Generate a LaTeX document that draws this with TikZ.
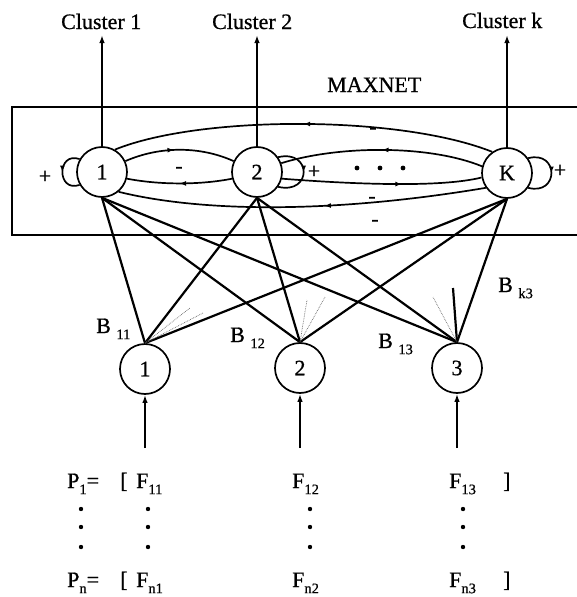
\documentclass[tikz,border=0pt]{standalone}
\usepackage{fontspec}
\setmainfont{Liberation Serif}
\newfontfamily\heavy{Liberation Serif}[FakeBold=0.8]
\usetikzlibrary{arrows.meta,decorations.markings}
\newcommand\sbs[1]{\raisebox{-0.28em}{\fontsize{14.5}{14.5}\selectfont #1}}
\begin{document}
\begin{tikzpicture}[x=1pt,y=-1pt,
  every node/.style={font=\heavy\fontsize{22}{22}\selectfont},
  neuron/.style={circle,draw,line width=1.7pt,minimum size=50pt,inner sep=0pt},
  wire/.style={line width=2.2pt},
  curvel/.style={line width=1.7pt},
  midarr/.style={postaction=decorate,decoration={markings,mark=at position #1 with {\arrow{Latex[length=6.5pt,width=5pt]}}}},
  upar/.style={line width=1.7pt,-{Latex[length=8pt,width=5.5pt]}},
  lbl/.style={anchor=base west,inner sep=0pt},
  mk/.style={inner sep=0pt},
  dotl/.style={densely dotted,line width=0.7pt,black!60}
]
\useasboundingbox (0,0) rectangle (577,597);

% MAXNET box
\draw[line width=1.6pt] (590,107) -- (12,107) -- (12,235) -- (590,235);
\node[lbl] (maxnet) at (327,92) {MAXNET};

% top neurons
\node[neuron] (t1) at (102,172) {1};
\node[neuron] (t2) at (257,172) {2};
\node[neuron] (tk) at (507,173) {K};

% bottom neurons
\node[neuron] (b1) at (145,369) {1};
\node[neuron] (b2) at (300,368) {2};
\node[neuron] (b3) at (457,368) {3};

% cluster outputs
\node[lbl] (c1) at (61,29) {Cluster 1};
\node[lbl] (c2) at (212,29) {Cluster 2};
\node[lbl] (ck) at (462,28) {Cluster k};
\coordinate (c1t) at (102,35);
\coordinate (c2t) at (257,35);
\coordinate (ckt) at (507,35);
\draw[upar] (t1.north) -- (c1t);
\draw[upar] (t2.north) -- (c2t);
\draw[upar] (tk.north) -- (ckt);

% lateral connections inside MAXNET
\draw[curvel,midarr=0.5] (tk.125) .. controls (400,115) and (200,115) .. (t1.60);
\draw[curvel,midarr=0.45] (t1.25) .. controls (160,146) and (200,146) .. (t2.155);
\draw[curvel,midarr=0.5] (t2.195) .. controls (200,185) and (160,185) .. (t1.-15);
\draw[curvel,midarr=0.5] (tk.165) .. controls (430,145) and (340,145) .. (t2.20);
\draw[curvel,midarr=0.6] (t2.-15) .. controls (350,184) and (440,188) .. (tk.190);
\draw[curvel,midarr=0.44] (tk.215) .. controls (330,214) and (200,212) .. (t1.-50);

% self loops
\draw[curvel,midarr=0.5] (t1.150) .. controls +(-23,-8) and +(-23,8) .. (t1.210);
\draw[curvel,midarr=0.5] (t2.35) .. controls +(34,-8) and +(34,8) .. (t2.-35);
\draw[curvel,midarr=0.5] (tk.35) .. controls +(31,-8) and +(31,8) .. (tk.-35);

% signs
\node[mk] (p1) at (45,177) {+};
\node[mk] (p2) at (314,172) {+};
\node[mk] (p3) at (560,171) {+};
\node[mk] (m1) at (179,170) {-};
\node[mk] (m2) at (373,131) {-};
\node[mk] (m3) at (372,200) {-};
\node[mk] (m4) at (375,223) {-};
\fill (357,168) circle (2.4pt) (380,168) circle (2.4pt) (403,168) circle (2.4pt);

% weights
\foreach \s in {t1,t2,tk}
  \foreach \d in {b1,b2,b3}
    \draw[wire] (\s.south) -- (\d.north);
\coordinate (stub) at (453,288);
\draw[wire] (stub) -- (b3.north);
\coordinate (d1a) at (190,308);
\coordinate (d1b) at (203,313);
\coordinate (d2a) at (307,300);
\coordinate (d2b) at (325,297);
\coordinate (d3a) at (433,297);
\draw[dotl] (b1.north) -- (d1a);
\draw[dotl] (b1.north) -- (d1b);
\draw[dotl] (b2.north) -- (d2a);
\draw[dotl] (b2.north) -- (d2b);
\draw[dotl] (b3.north) -- (d3a);

\node[lbl] (w11) at (96,333) {B \sbs{11}};
\node[lbl] (w12) at (230,342) {B \sbs{12}};
\node[lbl] (w13) at (378,348) {B \sbs{13}};
\node[lbl] (wk3) at (498,292) {B \sbs{k3}};

% inputs
\coordinate (i1) at (145,448);
\coordinate (i2) at (300,448);
\coordinate (i3) at (457,448);
\draw[upar] (i1) -- (b1.south);
\draw[upar] (i2) -- (b2.south);
\draw[upar] (i3) -- (b3.south);

% pattern vectors
\node[lbl] (pa) at (67,488) {P\sbs{1}=};
\node[lbl] (la) at (120,488) {[};
\node[lbl] (fa1) at (136,488) {F\sbs{11}};
\node[lbl] (fa2) at (292,488) {F\sbs{12}};
\node[lbl] (fa3) at (449,488) {F\sbs{13}};
\node[lbl] (ra) at (503,488) {]};
\node[lbl] (pn) at (67,587) {P\sbs{n}=};
\node[lbl] (ln) at (120,587) {[};
\node[lbl] (fn1) at (136,587) {F\sbs{n1}};
\node[lbl] (fn2) at (292,587) {F\sbs{n2}};
\node[lbl] (fn3) at (449,587) {F\sbs{n3}};
\node[lbl] (rn) at (503,587) {]};
\foreach \x in {81,148,310,463}
  \foreach \y in {509,527,547}
    \fill (\x,\y) circle (2.2pt);
\end{tikzpicture}
\end{document}
